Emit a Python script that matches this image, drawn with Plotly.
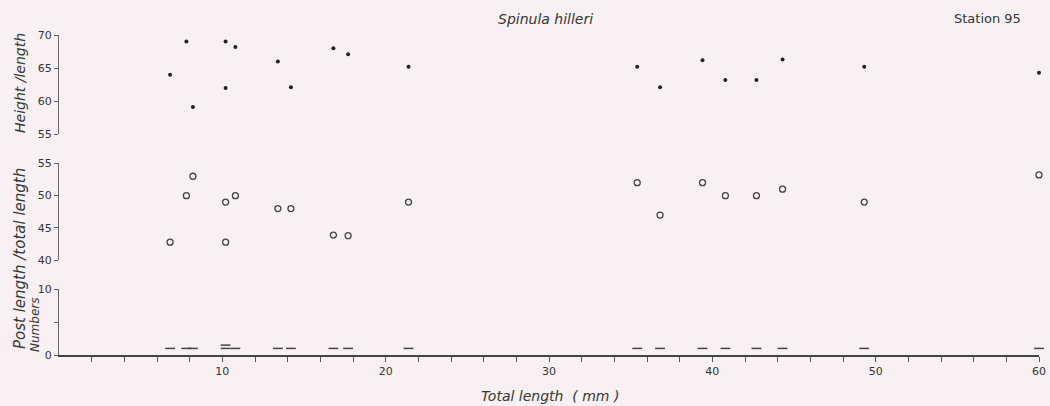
import plotly.graph_objects as go

# ---- data ----
total_length = [6.8, 7.8, 8.2, 10.2, 10.2, 10.8, 13.4, 14.2, 16.8, 17.7, 21.4,
                35.4, 36.8, 39.4, 40.8, 42.7, 44.3, 49.3, 60.0]
height_length = [64.0, 69.0, 59.1, 69.0, 62.0, 68.2, 66.0, 62.1, 68.0, 67.1, 65.2,
                 65.2, 62.1, 66.2, 63.2, 63.2, 66.3, 65.2, 64.3]
post_total = [42.8, 50.0, 53.0, 49.0, 42.8, 50.0, 48.0, 48.0, 43.9, 43.8, 49.0,
              52.0, 47.0, 52.0, 50.0, 50.0, 51.0, 49.0, 53.2]
# numbers of specimens at each length (each dash = one specimen)
num_x = [6.8, 7.8, 8.2, 10.2, 10.2, 10.8, 13.4, 14.2, 16.8, 17.7, 21.4,
         35.4, 36.8, 39.4, 40.8, 42.7, 44.3, 49.3, 60.0]
num_y = [1, 1, 1, 1, 1.5, 1, 1, 1, 1, 1, 1, 1, 1, 1, 1, 1, 1, 1, 1]

x_tickvals = list(range(2, 61, 2))
x_ticktext = [str(v) if v % 10 == 0 else "" for v in x_tickvals]

FONT = "DejaVu Sans"
INK = "#363636"
BG = "#f8f0f2"

fig = go.Figure()
fig.add_trace(go.Scatter(x=total_length, y=height_length, mode="markers",
                         marker=dict(symbol="circle", size=4, color="#222222"),
                         cliponaxis=False, xaxis="x", yaxis="y3", showlegend=False))
fig.add_trace(go.Scatter(x=total_length, y=post_total, mode="markers",
                         marker=dict(symbol="circle-open", size=6, color="#444444",
                                     line=dict(width=1.3)),
                         cliponaxis=False, xaxis="x", yaxis="y2", showlegend=False))
fig.add_trace(go.Scatter(x=num_x, y=num_y, mode="markers",
                         marker=dict(symbol="line-ew", size=7, color="#444444",
                                     line=dict(width=1.5, color="#444444")),
                         cliponaxis=False, xaxis="x", yaxis="y", showlegend=False))

yaxis_common = dict(showgrid=False, zeroline=False, showline=True, linecolor="#666666",
                    linewidth=1, ticks="outside", ticklen=4, tickcolor="#666666",
                    tickfont=dict(family=FONT, size=11, color=INK), anchor="x",
                    automargin=False)

# annotations given in pixel positions (x from left, y from top), converted below
ann_specs = [
    ("<i>Spinula hilleri</i>", 545, 19, 0, 14),
    ("Station 95", 987, 19, 0, 13),
    ("<i>Total length  ( mm )</i>", 550, 396, 0, 14),
    ("<i>Height /length</i>", 20, 83, -90, 14),
    ("<i>Post length /total length</i>", 20, 259, -90, 15),
    ("<i>Numbers</i>", 35, 325, -90, 12),
]
W, H = 1050, 406
ML, MR, MT, MB = 59, 11, 35, 51
pw, ph = W - ML - MR, H - MT - MB
annotations = []
for text, px, py, ang, size in ann_specs:
    annotations.append(dict(text=text, xref="paper", yref="paper",
                            x=(px - ML) / pw, y=(H - MB - py) / ph,
                            xanchor="center", yanchor="middle", textangle=ang,
                            showarrow=False, font=dict(family=FONT, size=size, color=INK)))

fig.update_layout(
    width=W, height=H,
    margin=dict(l=ML, r=MR, t=MT, b=MB, autoexpand=False),
    paper_bgcolor=BG, plot_bgcolor=BG,
    font=dict(family=FONT, color=INK),
    xaxis=dict(range=[0, 60], showgrid=False, zeroline=False, showline=True,
               linecolor="#444444", linewidth=1.5, ticks="outside", ticklen=5,
               tickcolor="#555555", tickvals=x_tickvals, ticktext=x_ticktext,
               tickfont=dict(family=FONT, size=11, color=INK), anchor="y",
               automargin=False),
    yaxis=dict(domain=[0, 0.206], range=[0, 10], tickvals=[0, 5, 10],
               ticktext=["0", "", "10"], **yaxis_common),
    yaxis2=dict(domain=[0.296, 0.599], range=[40, 55], tickvals=[40, 45, 50, 55],
                **yaxis_common),
    yaxis3=dict(domain=[0.69, 1.0], range=[55, 70], tickvals=[55, 60, 65, 70],
                **yaxis_common),
    annotations=annotations,
)

fig.write_html("out.html")
